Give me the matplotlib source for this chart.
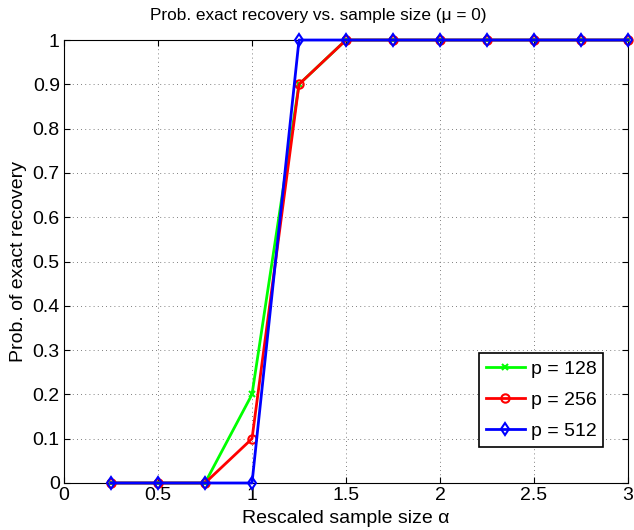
import matplotlib
matplotlib.use("Agg")
import matplotlib.pyplot as plt

alpha = [0.25, 0.5, 0.75, 1.0, 1.25, 1.5, 1.75, 2.0, 2.25, 2.5, 2.75, 3.0]
p128 = [0, 0, 0, 0.2, 0.9, 1, 1, 1, 1, 1, 1, 1]
p256 = [0, 0, 0, 0.1, 0.9, 1, 1, 1, 1, 1, 1, 1]
p512 = [0, 0, 0, 0, 1, 1, 1, 1, 1, 1, 1, 1]
xticks = [0, 0.5, 1, 1.5, 2, 2.5, 3]
yticks = [0, 0.1, 0.2, 0.3, 0.4, 0.5, 0.6, 0.7, 0.8, 0.9, 1]
ytick_labels = ["0", "0.1", "0.2", "0.3", "0.4", "0.5", "0.6", "0.7", "0.8", "0.9", "1"]

plt.rcParams['font.family'] = ['Liberation Sans', 'DejaVu Sans']
fig = plt.figure(figsize=(6.34, 5.30), dpi=100)
ax = fig.add_axes([0.101, 0.0887, 0.8895, 0.8358])

ax.plot(alpha, p128, color='#00ff00', lw=2, marker='x', ms=5, mew=1.5, label='p = 128', clip_on=False, zorder=3)
ax.plot(alpha, p256, color='#ff0000', lw=2, marker='o', ms=6, mfc='none', mew=1.5, label='p = 256', clip_on=False, zorder=3)
ax.plot(alpha, p512, color='#0000ff', lw=2, marker='d', ms=6.5, mfc='none', mew=1.5, label='p = 512', clip_on=False, zorder=3)

ax.set_xlim(0, 3)
ax.set_ylim(0, 1)
ax.set_xticks(xticks)
ax.set_xticklabels([f"{t:g}" for t in xticks])
ax.set_yticks(yticks)
ax.set_yticklabels(ytick_labels)
ax.tick_params(direction='in', top=True, right=True, labelsize=14, length=4, pad=3)
ax.grid(True, linestyle=(0, (1, 4)), color='#555555', lw=0.6)
for s in ax.spines.values():
    s.set_linewidth(0.8)

ax.set_xlabel('Rescaled sample size α', fontsize=14, labelpad=4)
ax.set_ylabel('Prob. of exact recovery', fontsize=14, labelpad=4)
fig.text(318 / 634, 1 - 20 / 530, 'Prob. exact recovery vs. sample size (μ = 0)',
         fontsize=12.4, ha='center', va='baseline')

leg = ax.legend(loc='lower right', bbox_to_anchor=(0.956, 0.081), borderaxespad=0,
                fontsize=14, fancybox=False, edgecolor='black', framealpha=1,
                handlelength=2.0, handletextpad=0.3, borderpad=0.35, labelspacing=0.7)
leg.get_frame().set_linewidth(1.2)

fig.savefig('out.png', dpi=100)
